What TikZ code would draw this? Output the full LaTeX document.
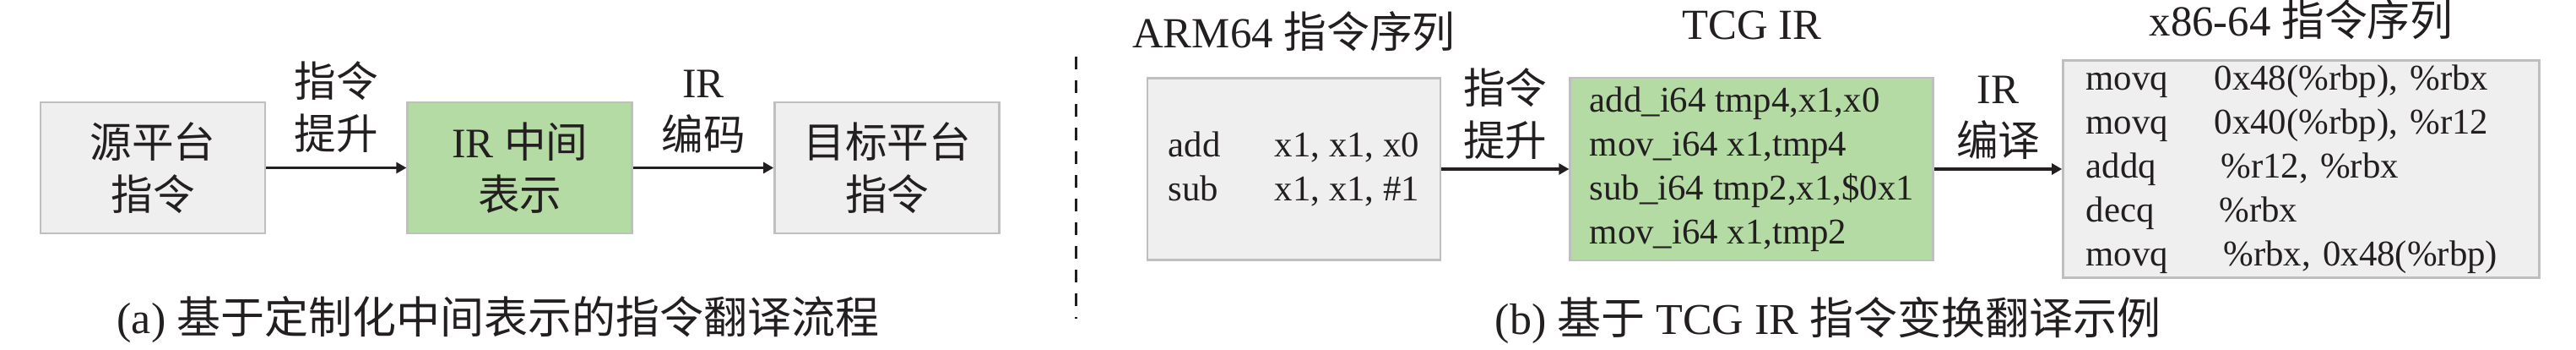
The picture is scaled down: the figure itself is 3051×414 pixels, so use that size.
\documentclass[tikz,border=0pt]{standalone}
\usepackage{fontspec}
\setmainfont{Liberation Serif}
\newfontfamily\cjk{Noto Sans CJK SC}
\newcommand{\zh}[1]{{\cjk #1}}
\usetikzlibrary{arrows.meta,positioning}
\definecolor{boxline}{RGB}{191,191,191}
\definecolor{boxfill}{RGB}{239,239,239}
\definecolor{irfill}{RGB}{181,219,164}
\definecolor{ink}{RGB}{35,31,32}
\tikzset{
    block/.style={
        draw=boxline,
        fill=boxfill,
        line width=0.7pt,
        rectangle,
        align=center,
        font=\fontsize{12.4pt}{15.5pt}\selectfont,
        minimum width=66.5pt,
        minimum height=38.75pt
    },
    irblock/.style={
        block,
        fill=irfill
    },
    codeblock/.style={
        draw=boxline,
        fill=boxfill,
        line width=0.7pt,
        rectangle,
        align=left,
        inner sep=0pt,
        font=\fontsize{10.7pt}{13pt}\selectfont
    },
    edgetext/.style={
        align=center,
        inner sep=1pt,
        font=\fontsize{12.4pt}{15.5pt}\selectfont
    },
    heading/.style={
        anchor=base,
        inner sep=0pt,
        font=\fontsize{12.7pt}{15pt}\selectfont
    },
    subcap/.style={
        anchor=base,
        inner sep=0pt,
        font=\fontsize{13pt}{15pt}\selectfont
    },
    flow/.style={
        ->,
        draw=ink,
        line width=0.8pt
    },
    >={Triangle[length=3pt,width=3.2pt]}
}
\begin{document}
\begin{tikzpicture}[x=0.25pt, y=-0.25pt, node distance=41.5pt, text=ink]
    \useasboundingbox (0,0) rectangle (3051,414);
    % (a) translation flow
    \node[block] (src) at (181,198.5) {\zh{源平台}\\\zh{指令}};
    \node[irblock, right=of src] (ir) {IR \zh{中间}\\\zh{表示}};
    \node[block, right=of ir] (dst) {\zh{目标平台}\\\zh{指令}};
    \draw[flow] (src) -- node[edgetext, above=3pt] {\zh{指令}\\\zh{提升}} (ir);
    \draw[flow] (ir) -- node[edgetext, above=3pt] {IR\\\zh{编码}} (dst);
    \node[subcap] (capa) at (590,395) {(a) \zh{基于定制化中间表示的指令翻译流程}};

    % separator
    \coordinate (septop) at (1274,67);
    \coordinate (sepbot) at (1274,377);
    \draw[ink, line width=0.75pt, dash pattern=on 3.75pt off 3.25pt] (septop) -- (sepbot);

    % (b) TCG IR example
    \node[codeblock, minimum width=86.75pt, minimum height=53.75pt] (arm) at (1532.5,200)
        {\makebox[31.5pt][l]{add}x1, x1, x0\\
         \makebox[31.5pt][l]{sub}x1, x1, \#1};
    \node[codeblock, fill=irfill, minimum width=107.5pt, minimum height=54pt, right=37.75pt of arm] (tcg)
        {add\_i64 tmp4,x1,x0\\
         mov\_i64 x1,tmp4\\
         sub\_i64 tmp2,x1,\$0x1\\
         mov\_i64 x1,tmp2};
    \node[codeblock, inner xsep=6.75pt, text width=127.5pt, minimum height=64.25pt, right=37.75pt of tcg] (x86)
        {\makebox[38pt][l]{movq}0x48(\%rbp), \%rbx\\
         \makebox[38pt][l]{movq}0x40(\%rbp), \%r12\\
         \makebox[40pt][l]{addq}\%r12, \%rbx\\
         \makebox[39.5pt][l]{decq}\%rbx\\
         \makebox[40.75pt][l]{movq}\%rbx, 0x48(\%rbp)};
    \node[heading] (armhead) at (arm.north |- 0,57) {ARM64 \zh{指令序列}};
    \node[heading] (tcghead) at (tcg.north |- 0,47) {TCG IR};
    \node[heading] (x86head) at (x86.north |- 0,43) {x86-64 \zh{指令序列}};
    \draw[flow] (arm) -- node[edgetext, above=1.5pt] {\zh{指令}\\\zh{提升}} (tcg);
    \draw[flow] (tcg) -- node[edgetext, above=1.5pt] {IR\\\zh{编译}} (x86);
    \node[subcap] (capb) at (2165,396) {(b) \zh{基于} TCG IR \zh{指令变换翻译示例}};
\end{tikzpicture}
\end{document}
